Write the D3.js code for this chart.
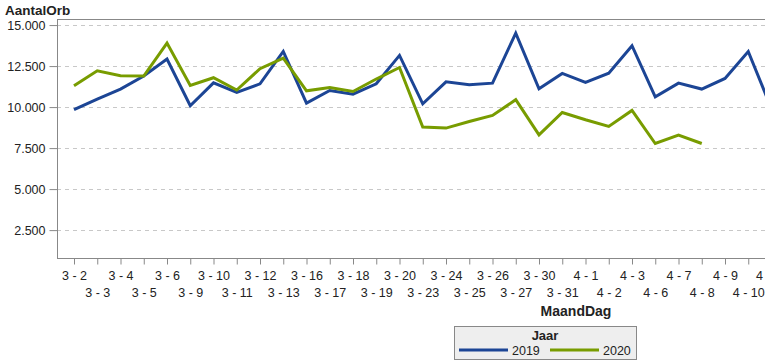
<!DOCTYPE html>
<html>
<head>
<meta charset="utf-8">
<script src="https://cdn.jsdelivr.net/npm/d3@7"></script>
<style>
  body { margin: 0; background: #fff; }
  text { font-family: "Liberation Sans", Arial, sans-serif; fill: #222; }
</style>
</head>
<body>
<svg id="chart" width="765" height="364"></svg>
<script>
// categories (month - day), last one is cut off by the picture edge
var days = ["3 - 2", "3 - 3", "3 - 4", "3 - 5", "3 - 6", "3 - 9", "3 - 10", "3 - 11", "3 - 12", "3 - 13",
    "3 - 16", "3 - 17", "3 - 18", "3 - 19", "3 - 20", "3 - 23", "3 - 24", "3 - 25", "3 - 26", "3 - 27",
    "3 - 30", "3 - 31", "4 - 1", "4 - 2", "4 - 3", "4 - 6", "4 - 7", "4 - 8", "4 - 9", "4 - 10", "4 - 13"];

var values2019 = [9840, 10490, 11100, 11890, 12930, 10080, 11480, 10890, 11420, 13390,
    10245, 11010, 10790, 11420, 13150, 10200, 11540, 11360, 11460, 14510,
    11120, 12050, 11500, 12070, 13740, 10630, 11460, 11100, 11745, 13390, 9900];

var values2020 = [11300, 12215, 11910, 11890, 13900, 11320, 11790, 11040, 12340, 12990,
    10995, 11200, 10950, 11710, 12415, 8780, 8720, 9120, 9490, 10450,
    8310, 9670, 9225, 8820, 9795, 7780, 8295, 7780, null, null, null];

var yTicks = [2500, 5000, 7500, 10000, 12500, 15000];

var series = [
    { name: "2019", values: values2019, color: "#1c4595" },
    { name: "2020", values: values2020, color: "#789c00" }
];

var svg = d3.select("#chart");

// plot area (note: "top" is taken by window.top, so use other names)
var plotLeft = 57, plotTop = 19, plotBottom = 258, plotRight = 765;

var x = d3.scalePoint()
    .domain(days)
    .range([74, 771.5]);

var y = d3.scaleLinear()
    .domain([800, 15370])
    .range([plotBottom, plotTop]);

// dutch number format: 15.000
var nl = d3.formatLocale({ decimal: ",", thousands: ".", grouping: [3], currency: ["€", ""] });
var fmt = nl.format(",");

// dashed grid lines
svg.append("g")
    .selectAll("line")
    .data(yTicks)
    .enter()
    .append("line")
    .attr("x1", plotLeft)
    .attr("x2", plotRight)
    .attr("y1", d => Math.round(y(d)) + 0.5)
    .attr("y2", d => Math.round(y(d)) + 0.5)
    .style("stroke", "#c8c8c8")
    .style("stroke-dasharray", "4,4");

// frame top
svg.append("line")
    .attr("x1", plotLeft).attr("x2", plotRight)
    .attr("y1", plotTop + 0.5).attr("y2", plotTop + 0.5)
    .style("stroke", "#888");

// y axis
var yAxis = svg.append("g")
    .attr("transform", "translate(" + (plotLeft + 0.5) + ",0)")
    .call(d3.axisLeft(y).tickValues(yTicks).tickFormat(fmt).tickSize(8).tickPadding(4));
yAxis.select(".domain").attr("d", "M0," + plotTop + "V" + plotBottom).style("stroke", "#888");
yAxis.selectAll(".tick line").style("stroke", "#888");
yAxis.selectAll(".tick text")
    .style("font-size", "12.5px")
    .style("font-family", "'Liberation Sans', Arial, sans-serif")
    .attr("fill", "#222");

// x axis, labels alternate between two rows
var xAxis = svg.append("g")
    .attr("transform", "translate(0," + (plotBottom + 0.5) + ")")
    .call(d3.axisBottom(x).tickSize(6).tickPadding(7));
xAxis.select(".domain").attr("d", "M" + plotLeft + ",0H" + plotRight).style("stroke", "#888");
xAxis.selectAll(".tick line").style("stroke", "#888");
xAxis.selectAll(".tick text")
    .style("font-size", "12.5px")
    .style("font-family", "'Liberation Sans', Arial, sans-serif")
    .attr("fill", "#222")
    .attr("dy", (d, i) => i % 2 ? "2.05em" : "0.71em");

// clip the lines to the plot area
svg.append("clipPath")
    .attr("id", "plotclip")
    .append("rect")
    .attr("x", plotLeft)
    .attr("y", plotTop)
    .attr("width", plotRight - plotLeft)
    .attr("height", plotBottom - plotTop);

var line = d3.line()
    .defined(d => d.v != null)
    .x(d => x(d.day))
    .y(d => y(d.v));

svg.append("g")
    .attr("clip-path", "url(#plotclip)")
    .selectAll("path")
    .data(series)
    .enter()
    .append("path")
    .attr("d", s => line(s.values.map((v, i) => ({ day: days[i], v: v }))))
    .style("fill", "none")
    .style("stroke", s => s.color)
    .style("stroke-width", 3)
    .style("stroke-linejoin", "miter");

// titles
svg.append("text")
    .attr("x", 5)
    .attr("y", 15)
    .style("font-size", "13.5px")
    .style("font-weight", "bold")
    .text("AantalOrb");

svg.append("text")
    .attr("x", 576)
    .attr("y", 316)
    .attr("text-anchor", "middle")
    .style("font-size", "14px")
    .style("font-weight", "bold")
    .text("MaandDag");

// legend
var lg = svg.append("g").attr("transform", "translate(454,326)");
lg.append("rect")
    .attr("x", 0.5).attr("y", 0.5)
    .attr("width", 182).attr("height", 33)
    .style("fill", "#eeeeee")
    .style("stroke", "#888");
lg.append("text")
    .attr("x", 91)
    .attr("y", 14)
    .attr("text-anchor", "middle")
    .style("font-size", "13px")
    .style("font-weight", "bold")
    .text("Jaar");

var items = lg.selectAll(".item")
    .data(series)
    .enter()
    .append("g")
    .attr("transform", (d, i) => "translate(" + (5 + i * 91) + ",24)");
items.append("line")
    .attr("x1", 0).attr("x2", 49)
    .style("stroke", d => d.color)
    .style("stroke-width", 3);
items.append("text")
    .attr("x", 53)
    .attr("y", 4.5)
    .style("font-size", "12.5px")
    .text(d => d.name);
</script>
</body>
</html>
